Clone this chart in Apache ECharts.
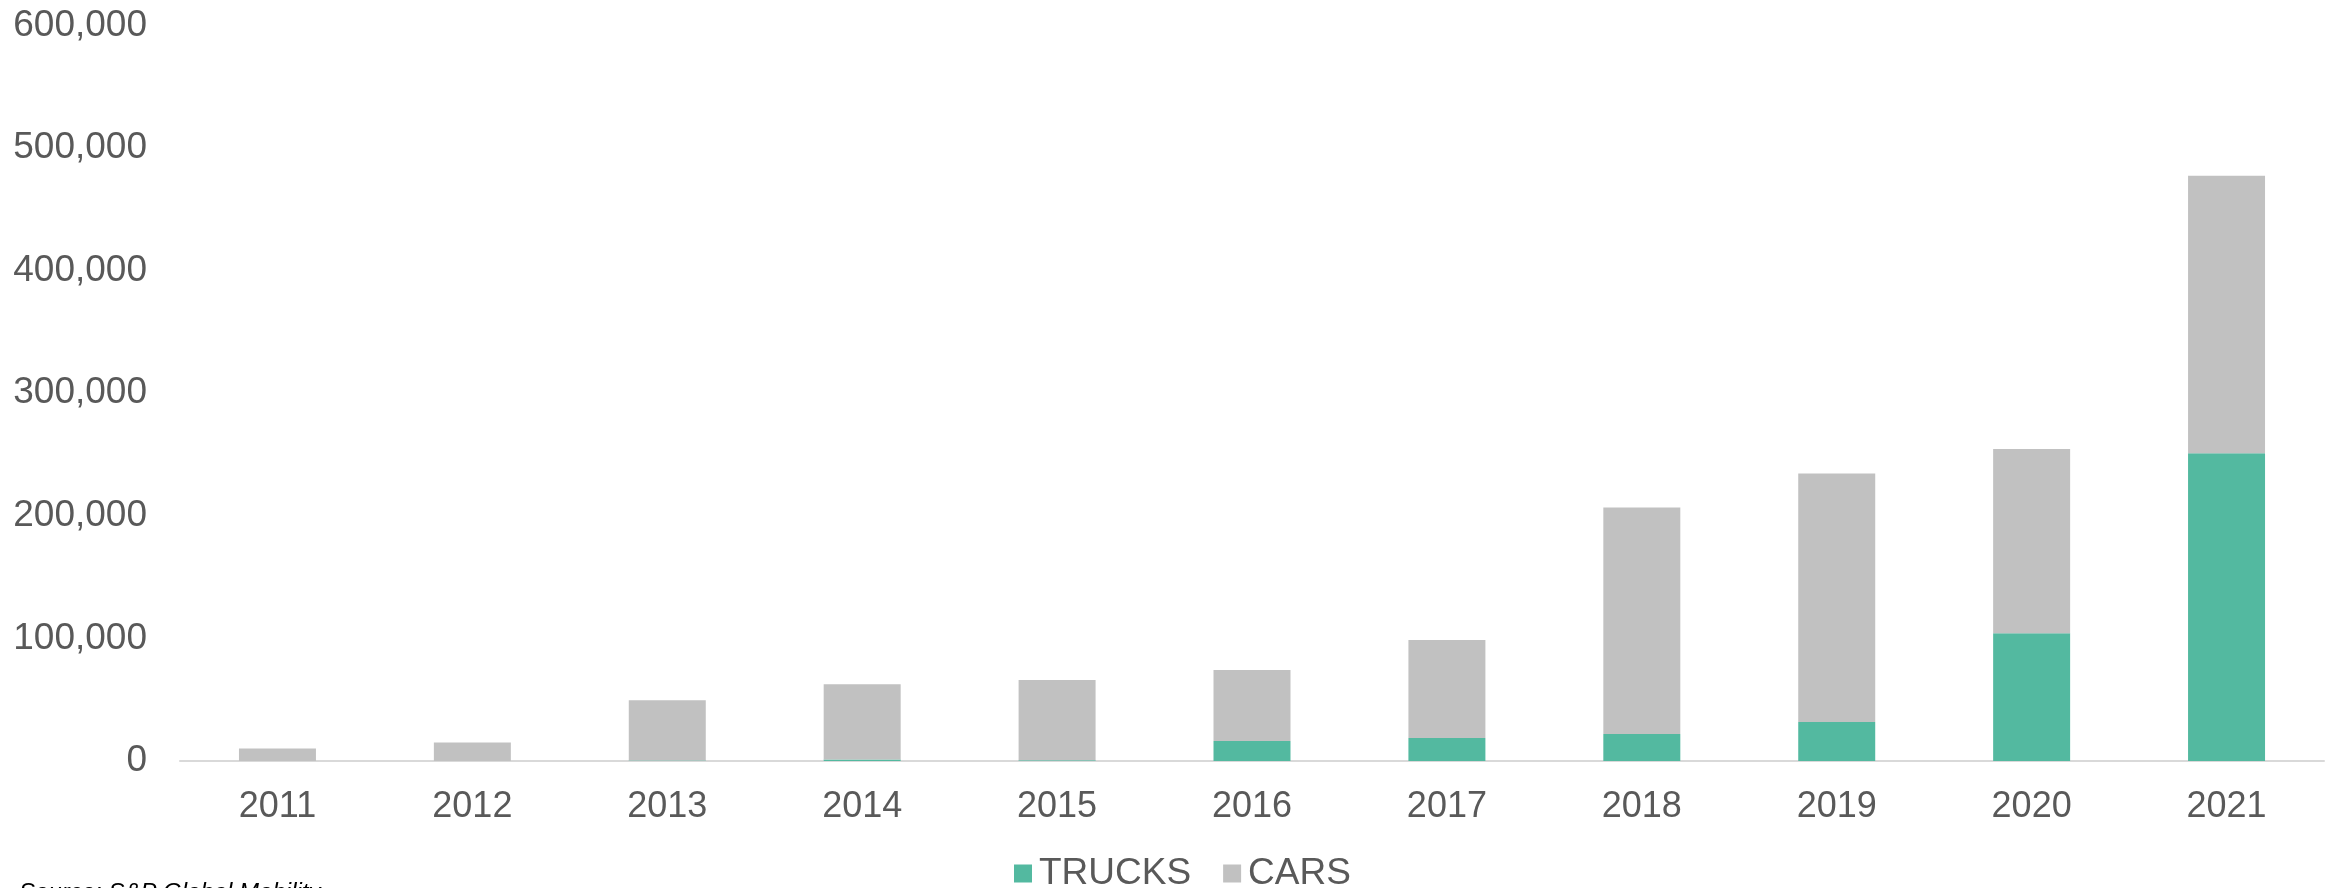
<!DOCTYPE html>
<html>
<head>
<meta charset="utf-8">
<script src="https://cdn.jsdelivr.net/npm/echarts@6/dist/echarts.min.js"></script>
<style>
  html, body { margin: 0; padding: 0; background: #ffffff; }
  #chart { width: 2336px; height: 888px; }
</style>
</head>
<body>
<div id="chart"></div>
<script>
// Annual volumes by vehicle type
const years = ['2011', '2012', '2013', '2014', '2015', '2016', '2017', '2018', '2019', '2020', '2021'];
const trucks = [0, 0, 500, 1200, 600, 16400, 18800, 22000, 31900, 104300, 251000];
const cars = [10100, 15000, 49100, 61500, 65400, 57800, 80000, 184800, 202700, 150200, 226500];
const yTicks = [0, 100000, 200000, 300000, 400000, 500000, 600000];

const textColor = '#595959';
const fontFamily = 'Liberation Sans, Arial, sans-serif';

const chart = echarts.init(document.getElementById('chart'), null, { renderer: 'canvas' });

chart.setOption({
  animation: false,
  backgroundColor: '#ffffff',
  textStyle: { fontFamily: fontFamily },
  grid: { left: 180, right: 12, top: 25.5, bottom: 127, containLabel: false },
  legend: {
    data: ['TRUCKS', 'CARS'],
    left: 1009,
    top: 850,
    itemWidth: 18,
    itemHeight: 18,
    itemGap: 32,
    icon: 'rect',
    textStyle: { color: textColor, fontSize: 37, fontFamily: fontFamily, padding: [0, 0, 0, 2] }
  },
  xAxis: {
    type: 'category',
    data: years,
    axisLine: { lineStyle: { color: '#D9D9D9', width: 2 } },
    axisTick: { show: false },
    axisLabel: { color: textColor, fontSize: 36, margin: 28, fontFamily: fontFamily }
  },
  yAxis: {
    type: 'value',
    min: yTicks[0],
    max: yTicks[yTicks.length - 1],
    interval: yTicks[1] - yTicks[0],
    splitLine: { show: false },
    axisLine: { show: false },
    axisTick: { show: false },
    axisLabel: {
      color: textColor,
      fontSize: 37,
      margin: 33,
      padding: [5, 0, 0, 0],
      fontFamily: fontFamily,
      formatter: v => v.toLocaleString('en-US')
    }
  },
  series: [
    {
      name: 'TRUCKS',
      type: 'bar',
      stack: 'total',
      data: trucks,
      barWidth: '39.5%',
      itemStyle: { color: '#53B9A0' }
    },
    {
      name: 'CARS',
      type: 'bar',
      stack: 'total',
      data: cars,
      barWidth: '39.5%',
      itemStyle: { color: '#C1C1C1' }
    }
  ],
  graphic: [
    {
      type: 'text',
      left: 19,
      top: 881,
      style: {
        text: 'Source: S&P Global Mobility',
        fill: '#000000',
        font: 'italic 24px ' + fontFamily
      }
    }
  ]
});
</script>
</body>
</html>
